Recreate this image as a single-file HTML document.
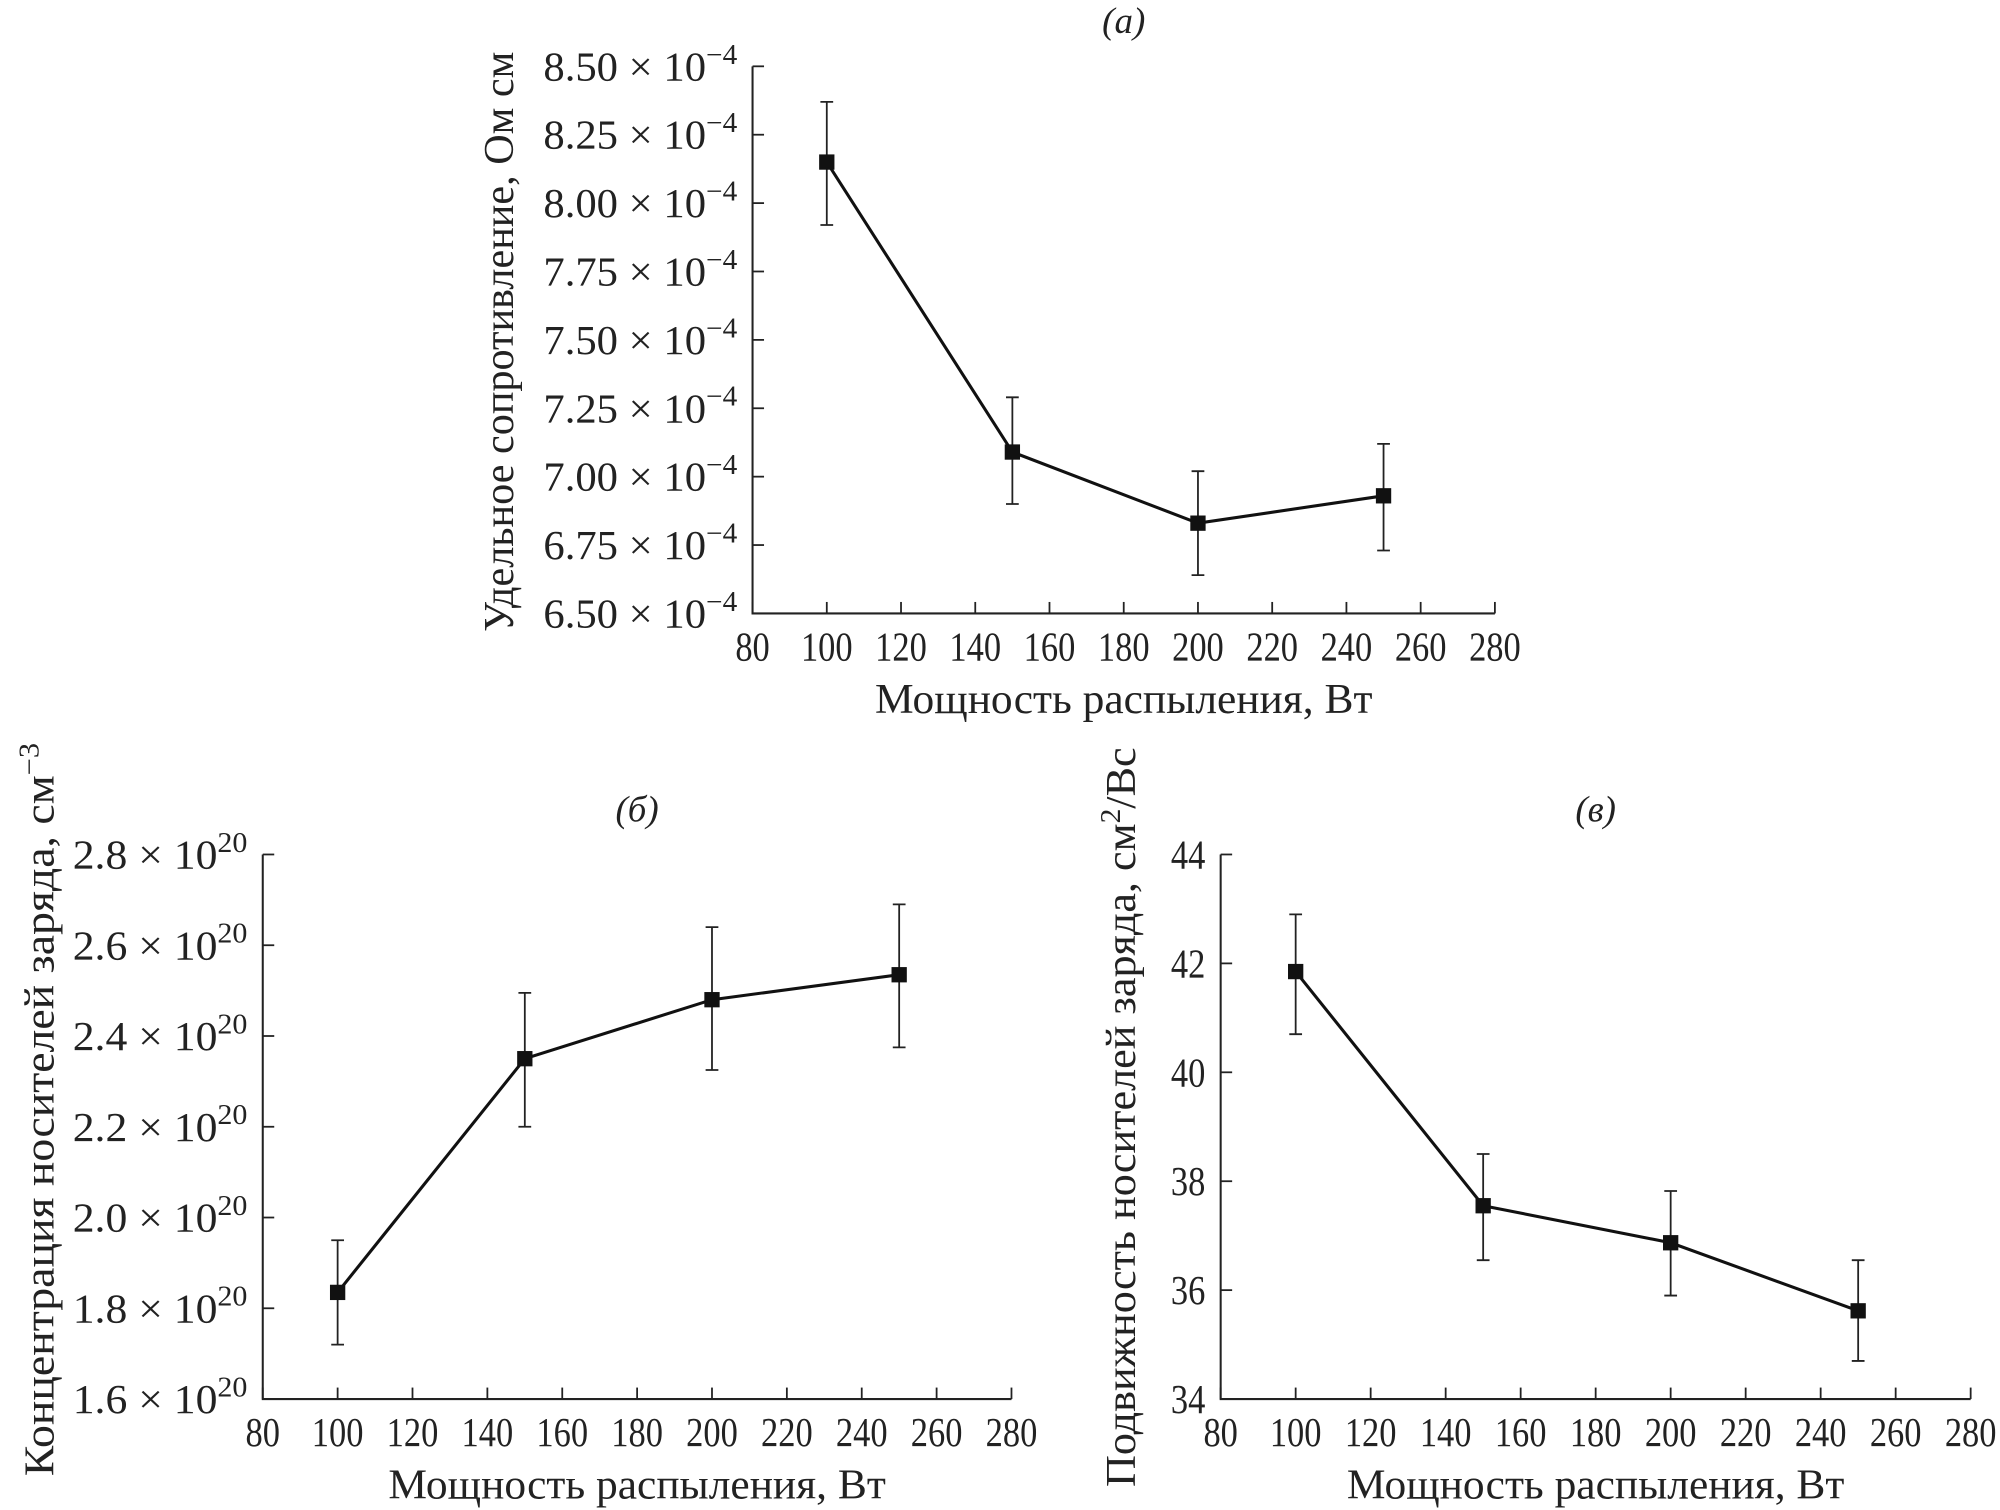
<!DOCTYPE html>
<html><head><meta charset="utf-8"><style>
html,body{margin:0;padding:0;background:#fff;}
svg{display:block;}
text{font-family:"Liberation Serif",serif;fill:#222;}
</style></head><body>
<svg id="fig" width="2000" height="1510" viewBox="0 0 1568 1184" preserveAspectRatio="none" xmlns="http://www.w3.org/2000/svg"></svg>
<script>
const xVals = [100, 150, 200, 250];
const xTicks = [80, 100, 120, 140, 160, 180, 200, 220, 240, 260, 280];
// chart a
const resVals = [8.15, 7.09, 6.83, 6.93];
const resHi = [8.37, 7.29, 7.02, 7.12];
const resLo = [7.92, 6.90, 6.64, 6.73];
const resTicks = [6.50, 6.75, 7.00, 7.25, 7.50, 7.75, 8.00, 8.25, 8.50];
// chart b
const concVals = [1.835, 2.35, 2.48, 2.535];
const concHi = [1.95, 2.495, 2.64, 2.69];
const concLo = [1.72, 2.20, 2.325, 2.375];
const concTicks = [1.6, 1.8, 2.0, 2.2, 2.4, 2.6, 2.8];
// chart c
const mobVals = [41.85, 37.55, 36.87, 35.62];
const mobHi = [42.9, 38.5, 37.82, 36.55];
const mobLo = [40.7, 36.55, 35.9, 34.7];
const mobTicks = [34, 36, 38, 40, 42, 44];

const NS = "http://www.w3.org/2000/svg";
const svg = document.getElementById('fig');
function mk(tag, attrs, parent) {
  const e = document.createElementNS(NS, tag);
  for (const k in attrs) e.setAttribute(k, attrs[k]);
  (parent || svg).appendChild(e);
  return e;
}

function chart(cfg) {
  const g = mk('g', {});
  
  
  const sx = v => cfg.x0 + (v - 80) / 200 * (cfg.x1 - cfg.x0);
  const sy = v => cfg.yb + (v - cfg.ymin) / (cfg.ymax - cfg.ymin) * (cfg.yt - cfg.yb);
  const ax = mk('path', {d: `M${cfg.x0},${cfg.yt} V${cfg.yb} H${cfg.x1}`, fill: 'none', stroke: '#222', 'stroke-width': 1.6}, g);
  
  
  xTicks.forEach(t => {
    const X = sx(t);
    const tk = mk('line', {x1: X, x2: X, y1: cfg.yb, y2: cfg.yb - 9, stroke: '#222', 'stroke-width': 1.4}, g);
    
    
    const s = String(t);
    const tl = mk('text', {x: X, y: cfg.yb + 37, 'font-size': 32, 'text-anchor': 'middle', textLength: s.length * 13.5, lengthAdjust: 'spacingAndGlyphs'}, g);
    tl.textContent = s;
    
    
  });
  cfg.ticks.forEach(t => {
    const Y = sy(t);
    const tk = mk('line', {x1: cfg.x0, x2: cfg.x0 + 9, y1: Y, y2: Y, stroke: '#222', 'stroke-width': 1.4}, g);
    
    
    const tl = mk('text', {x: cfg.x0 - 12, y: Y + 11, 'font-size': 32, 'text-anchor': 'end', lengthAdjust: 'spacingAndGlyphs'}, g);
    
    
    if (cfg.exp) {
      tl.setAttribute('textLength', cfg.tickW);
      const m = mk('tspan', {}, tl); m.textContent = t.toFixed(cfg.dec) + ' × 10';
      const s = mk('tspan', {dy: -13, 'font-size': 22}, tl); s.textContent = cfg.exp;
    } else {
      tl.setAttribute('textLength', 27);
      tl.textContent = t;
    }
  });
  const pts = xVals.map((x, i) => `${sx(x)},${sy(cfg.vals[i])}`).join(' ');
  const ln = mk('polyline', {points: pts, fill: 'none', stroke: '#111', 'stroke-width': 2.4}, g);
  
  
  xVals.forEach((x, i) => {
    const X = sx(x), H = sy(cfg.hi[i]), L = sy(cfg.lo[i]);
    const eb = mk('path', {d: `M${X},${H} V${L} M${X-5},${H} H${X+5} M${X-5},${L} H${X+5}`, fill: 'none', stroke: '#222', 'stroke-width': 1.4}, g);
    
    
    const pt = mk('rect', {x: X - 6, y: sy(cfg.vals[i]) - 6, width: 12, height: 12, fill: '#111'}, g);
    
    
  });
  const cx = (cfg.x0 + cfg.x1) / 2;
  const ti = mk('text', {x: cx, y: cfg.yt - 26, 'font-size': 29, 'text-anchor': 'middle', 'font-style': 'italic'}, g);
  ti.textContent = cfg.title;
  
  
  const xl = mk('text', {x: cx, y: cfg.yb + 78, 'font-size': 33, 'text-anchor': 'middle', textLength: 390, lengthAdjust: 'spacingAndGlyphs'}, g);
  xl.textContent = 'Мощность распыления, Вт';
  
  
  const yl = mk('text', {x: 0, y: 0, 'font-size': 33, 'text-anchor': 'middle', transform: `translate(${cfg.ylx},${cfg.ylc}) rotate(-90)`, textLength: cfg.ylLen, lengthAdjust: 'spacingAndGlyphs'}, g);
  
  
  const a = mk('tspan', {}, yl); a.textContent = cfg.ylabel;
  if (cfg.ysup) { const s = mk('tspan', {dy: -12, 'font-size': 22}, yl); s.textContent = cfg.ysup; }
  if (cfg.ytail) { const t2 = mk('tspan', {dy: 12}, yl); t2.textContent = cfg.ytail; }
}

chart({name: 'chart-resistivity', x0: 590, x1: 1172, yt: 52, yb: 481, ymin: 6.5, ymax: 8.5,
  ticks: resTicks, vals: resVals, hi: resHi, lo: resLo, exp: '−4', dec: 2, title: '(a)', tickW: 152,
  ylabel: 'Удельное сопротивление, Ом см', ylx: 402, ylc: 268, ylLen: 455});
chart({name: 'chart-concentration', x0: 206, x1: 793, yt: 670, yb: 1097, ymin: 1.6, ymax: 2.8,
  ticks: concTicks, vals: concVals, hi: concHi, lo: concLo, exp: '20', dec: 1, title: '(б)', tickW: 137,
  ylabel: 'Концентрация носителей заряда, см', ysup: '−3', ylx: 42, ylc: 870, ylLen: 575});
chart({name: 'chart-mobility', x0: 957, x1: 1545, yt: 670, yb: 1097, ymin: 34, ymax: 44,
  ticks: mobTicks, vals: mobVals, hi: mobHi, lo: mobLo, exp: null, dec: 0, title: '(в)',
  ylabel: 'Подвижность носителей заряда, см', ysup: '2', ytail: '/Вс', ylx: 890, ylc: 876, ylLen: 580});
</script>
</body></html>
